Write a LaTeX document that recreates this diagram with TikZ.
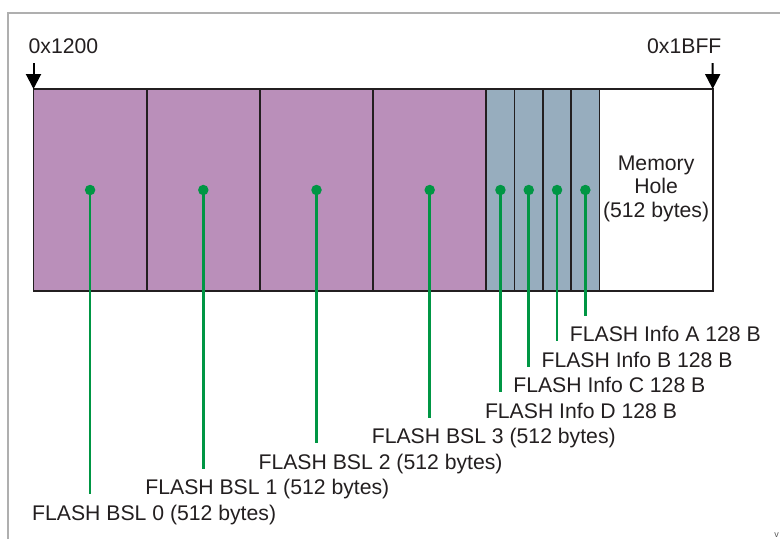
\documentclass[tikz,border=0pt]{standalone}
\usepackage{fontspec}
\setmainfont{Liberation Sans}
\usetikzlibrary{arrows.meta}
\definecolor{bslpurple}{RGB}{186,143,186}
\definecolor{infoblue}{RGB}{151,173,190}
\definecolor{leadgreen}{RGB}{0,150,68}
\definecolor{edgegray}{RGB}{175,175,175}
\definecolor{cellline}{RGB}{35,31,32}

\begin{document}
\begin{tikzpicture}[x=1pt,y=-1pt,
  cell/.style={draw=cellline, line width=1.7pt, minimum height=202pt,
    anchor=north west, inner sep=0, outer sep=0},
  bsl/.style={cell, fill=bslpurple, minimum width=113.2pt},
  info/.style={cell, fill=infoblue, minimum width=28.3pt},
  hole/.style={cell, fill=white, minimum width=113.2pt},
  dot/.style={circle, fill=leadgreen, minimum size=10.5pt, inner sep=0, outer sep=0},
  lead/.style={draw=leadgreen, line width=2.6pt, shorten >=26pt},
  lbl/.style={anchor=base west, inner sep=0, text=cellline,
    font=\fontsize{21.2}{23}\selectfont},
  addr/.style={draw=black, line width=2pt, -{Triangle[length=15pt,width=15pt]}},
]
\useasboundingbox (0,0) rectangle (780,539);

% outer frame
\draw[edgegray, line width=1.4pt] (8,539) -- (8,13) -- (780,13);

% memory map cells
\foreach \i in {0,...,3}
  \node[bsl] (b\i) at ({33.5+113.2*\i},89) {};
\foreach \j in {0,...,3}
  \node[info] (f\j) at ({486.3+28.3*\j},89) {};
\node[hole] (hole) at (599.5,89) {};
\node[text=cellline, align=center, font=\fontsize{21.2}{23.5}\selectfont]
  (holetxt) at ([yshift=1.5pt]hole.center) {Memory\\Hole\\(512 bytes)};

% address markers
\node[lbl] (adrlo) at (28.5,53) {0x1200};
\node[lbl] (adrhi) at (647,53) {0x1BFF};
\coordinate (lotop) at (33.5,63);
\coordinate (hitop) at (712.7,63);
\draw[addr] (lotop) -- (b0.north west);
\draw[addr] (hitop) -- (hole.north east);

% segment labels
\node[lbl] (lb0) at (32,520)   {FLASH BSL 0 (512 bytes)};
\node[lbl] (lb1) at (145.2,494.5) {FLASH BSL 1 (512 bytes)};
\node[lbl] (lb2) at (258.4,469) {FLASH BSL 2 (512 bytes)};
\node[lbl] (lb3) at (371.6,443.5) {FLASH BSL 3 (512 bytes)};
\node[lbl] (lf0) at (484.8,418) {FLASH Info D 128 B};
\node[lbl] (lf1) at (513.1,392.5) {FLASH Info C 128 B};
\node[lbl] (lf2) at (541.4,367) {FLASH Info B 128 B};
\node[lbl] (lf3) at (569.7,341.5) {FLASH Info A 128 B};

% leader lines with dots
\foreach \n in {b0,b1,b2,b3,f0,f1,f2,f3}
  \coordinate (c\n) at (\n.center);
\foreach \n/\l in {b0/lb0,b1/lb1,b2/lb2,b3/lb3,f0/lf0,f1/lf1,f2/lf2,f3/lf3}
  \draw[lead] (c\n) -- (c\n |- \l.base);
\foreach \n in {b0,b1,b2,b3,f0,f1,f2,f3}
  \node[dot] (d\n) at (c\n) {};

% corner mark
\node[anchor=base, inner sep=0, text=black!65, font=\fontsize{9}{9}\selectfont]
  (cornerv) at (776.5,537.5) {v};
\end{tikzpicture}
\end{document}
